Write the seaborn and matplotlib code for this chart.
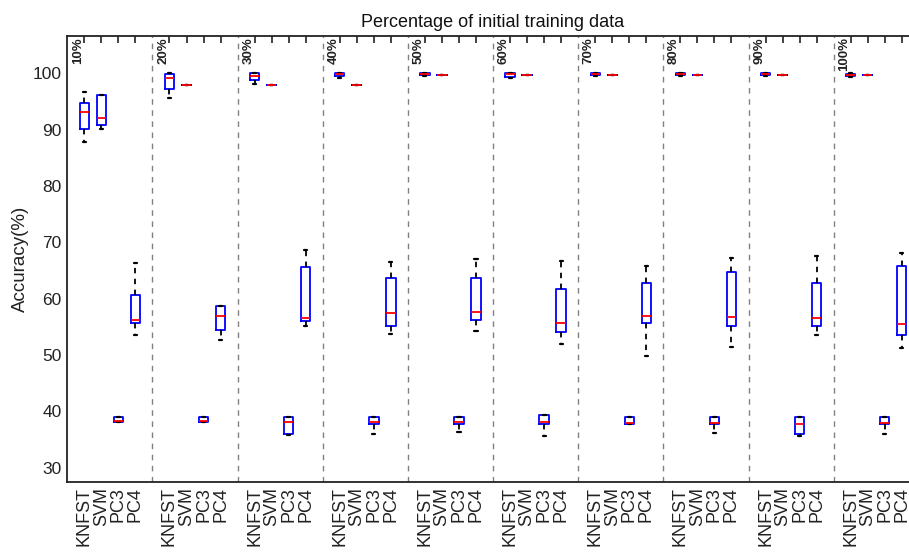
import numpy as np
import pandas as pd
import matplotlib
matplotlib.use("Agg")
import matplotlib.pyplot as plt
import seaborn as sns

groups = ["10%", "20%", "30%", "40%", "50%", "60%", "70%", "80%", "90%", "100%"]
methods = ["KNFST", "SVM", "PC3", "PC4"]

# five-number summaries per group: [low whisker, q1, median, q3, high whisker]
knfst_stats = [
    [87.9, 90.2, 93.2, 94.8, 96.7],
    [95.6, 97.3, 99.2, 99.9, 100.0],
    [98.2, 98.8, 99.6, 100.0, 100.0],
    [99.1, 99.5, 99.9, 100.0, 100.0],
    [99.5, 99.7, 99.9, 100.0, 100.0],
    [99.2, 99.4, 99.9, 100.0, 100.0],
    [99.6, 99.7, 99.9, 100.0, 100.0],
    [99.6, 99.7, 99.9, 100.0, 100.0],
    [99.5, 99.7, 99.9, 100.0, 100.0],
    [99.4, 99.5, 99.7, 99.9, 100.0],
]
svm_stats = [
    [90.05, 90.9, 92.1, 96.1, 96.1],
    [98.0, 98.0, 98.0, 98.0, 98.0],
    [97.9, 97.9, 97.9, 97.9, 97.9],
    [97.9, 97.9, 97.9, 97.9, 97.9],
    [99.7, 99.7, 99.7, 99.7, 99.7],
    [99.7, 99.7, 99.7, 99.7, 99.7],
    [99.7, 99.7, 99.7, 99.7, 99.7],
    [99.7, 99.7, 99.7, 99.7, 99.7],
    [99.7, 99.7, 99.7, 99.7, 99.7],
    [99.7, 99.7, 99.7, 99.7, 99.7],
]
pc3_stats = [
    [38.1, 38.1, 38.2, 39.0, 39.0],
    [38.1, 38.1, 38.2, 39.0, 39.0],
    [35.8, 36.0, 38.1, 39.0, 39.0],
    [35.9, 37.8, 38.1, 39.0, 39.0],
    [36.4, 37.8, 38.1, 39.0, 39.0],
    [35.6, 37.8, 38.1, 39.3, 39.3],
    [37.8, 37.8, 38.0, 39.0, 39.0],
    [36.2, 37.8, 37.9, 39.0, 39.0],
    [35.6, 35.9, 37.8, 39.0, 39.0],
    [35.9, 37.8, 37.9, 39.0, 39.0],
]
pc4_stats = [
    [53.5, 55.6, 56.2, 60.6, 66.4],
    [52.6, 54.4, 57.0, 58.7, 58.7],
    [55.1, 56.1, 56.5, 65.6, 68.7],
    [53.8, 55.2, 57.5, 63.7, 66.5],
    [54.2, 56.3, 57.7, 63.7, 67.1],
    [52.0, 54.1, 55.6, 61.8, 66.7],
    [49.9, 55.7, 57.0, 62.8, 65.8],
    [51.5, 55.1, 56.7, 64.8, 67.3],
    [53.6, 55.1, 56.5, 62.8, 67.6],
    [51.3, 53.5, 55.5, 65.8, 68.2],
]
yticks = [30, 40, 50, 60, 70, 80, 90, 100]

all_stats = {"KNFST": knfst_stats, "SVM": svm_stats, "PC3": pc3_stats, "PC4": pc4_stats}
rows = []
for gi, g in enumerate(groups):
    for mi, m in enumerate(methods):
        pos = gi * 5 + mi + 1
        for v in all_stats[m][gi]:
            rows.append({"pos": pos, "acc": v, "group": g, "method": m})
df = pd.DataFrame(rows)

sns.set_style("white")
plt.rcParams["font.family"] = ["Liberation Sans", "DejaVu Sans"]

W, H = 909, 552
fig = plt.figure(figsize=(W / 100, H / 100), dpi=100)
ax_left, ax_right, ax_top, ax_bot = 67.3, 918.8, 35.7, 481.7
ax = fig.add_axes([ax_left / W, 1 - ax_bot / H, (ax_right - ax_left) / W, (ax_bot - ax_top) / H])

n_before = len(ax.lines)
sns.boxplot(
    data=df, x="pos", y="acc", native_scale=True, width=0.55, fill=False,
    color="blue", whis=(0, 100), linewidth=1.3, ax=ax,
    medianprops=dict(color="red", linewidth=1.3),
    whiskerprops=dict(color="black", linestyle=(0, (3, 3)), linewidth=1.3),
    capprops=dict(color="black", linewidth=1.6),
)

# narrow the whisker caps (MATLAB-style short caps)
for ln in ax.lines[n_before:]:
    xd, yd = np.asarray(ln.get_xdata(), float), np.asarray(ln.get_ydata(), float)
    if (len(xd) == 2 and yd[0] == yd[1] and ln.get_linestyle() == "-"
            and matplotlib.colors.to_hex(ln.get_color()) == "#000000"):
        c = xd.mean()
        ln.set_xdata([c - 0.09, c + 0.09])

for gi in range(1, len(groups)):
    ax.axvline(gi * 5, color="#808080", linestyle=(0, (4, 4)), linewidth=1.0, zorder=0)

for gi, g in enumerate(groups):
    ax.text(gi * 5 + 0.62, 106.4, g, rotation=90, ha="center", va="top",
            fontsize=9.5, fontweight="bold", color="#222222")

xt = [gi * 5 + mi + 1 for gi in range(len(groups)) for mi in range(len(methods))]
ax.set_xticks(xt)
ax.set_xticklabels(methods * len(groups), rotation=90, fontsize=13)
ax.set_yticks(yticks)
ax.set_yticklabels([str(t) for t in yticks], fontsize=12.5)
ax.set_xlim(0, 50)
ax.set_ylim(27.5, 106.7)
ax.tick_params(direction="in", top=True, right=True, length=5, width=1.2, color="#222222",
               labelcolor="#222222", pad=4)
for s in ax.spines.values():
    s.set_color("#222222")
    s.set_linewidth(1.3)
ax.set_xlabel("")
ax.set_ylabel("Accuracy(%)", fontsize=13.5, color="#222222", labelpad=3)
ax.set_title("Percentage of initial training data", fontsize=13, color="#111111", pad=6)

fig.savefig("out.png", dpi=100)
